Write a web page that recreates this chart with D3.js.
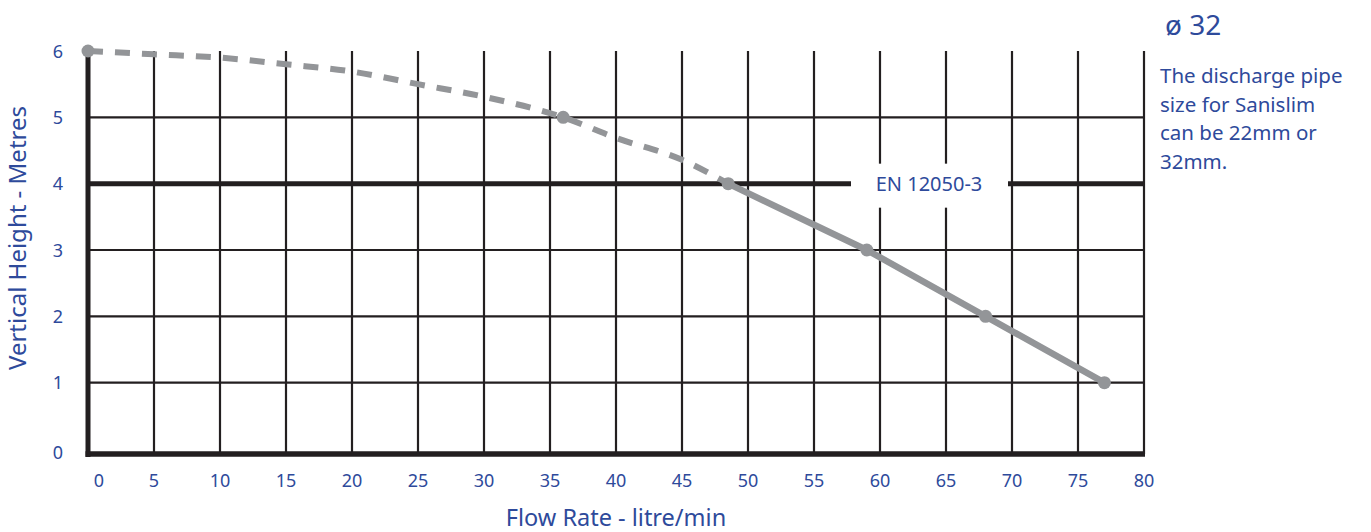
<!DOCTYPE html>
<html>
<head>
<meta charset="utf-8">
<script src="https://cdn.jsdelivr.net/npm/d3@7"></script>
<style>
  body { margin: 0; background: #fff; }
  svg { display: block; font-family: "Noto Sans", sans-serif; }
</style>
</head>
<body>
<svg width="1371" height="532"></svg>
<script>
// flow rate (litre/min) vs vertical height (m)
const dashedFlow = [0, 5, 10, 15, 20, 25, 30, 36, 40, 45, 48.5];
const dashedHeight = [6, 5.95, 5.9, 5.8, 5.69, 5.5, 5.31, 5, 4.69, 4.36, 4];
const solidFlow = [48.5, 59, 68, 77];
const solidHeight = [4, 3, 2, 1];
const markerFlow = [0, 36, 48.5, 59, 68, 77];
const markerHeight = [6, 5, 4, 3, 2, 1];
const xTicks = d3.range(0, 81, 5);
const yTicks = [0, 1, 2, 3, 4, 5, 6];
const standardHeight = 4;
const standardLabel = 'EN 12050-3';
const noteLines = ['The discharge pipe', 'size for Sanislim', 'can be 22mm or', '32mm.'];

const BLUE = '#2e4a9b', INK = '#231f20', GREY = '#939598';

const x = d3.scaleLinear().domain([0, 80]).range([88, 1144]);
const y = d3.scaleLinear().domain([0, 6]).range([449, 51]);

const svg = d3.select('svg');
const bottom = y(0) + 5;

// grid
svg.append('g')
  .selectAll('line')
  .data(xTicks.filter(d => d > 0))
  .join('line')
  .attr('x1', d => x(d)).attr('x2', d => x(d))
  .attr('y1', y(6)).attr('y2', bottom)
  .attr('stroke', INK).attr('stroke-width', 2.2);

svg.append('g')
  .selectAll('line')
  .data(yTicks.filter(d => d > 0 && d < 6 && d !== standardHeight))
  .join('line')
  .attr('x1', x(0)).attr('x2', x(80))
  .attr('y1', d => y(d)).attr('y2', d => y(d))
  .attr('stroke', INK).attr('stroke-width', 2.2);

// frame (left + bottom)
svg.append('line')
  .attr('x1', x(0)).attr('x2', x(0))
  .attr('y1', y(6)).attr('y2', bottom + 3)
  .attr('stroke', INK).attr('stroke-width', 5);
svg.append('line')
  .attr('x1', x(0) - 2.5).attr('x2', x(80) + 1)
  .attr('y1', bottom).attr('y2', bottom)
  .attr('stroke', INK).attr('stroke-width', 5.5);

// standard line with label
svg.append('line')
  .attr('x1', x(0)).attr('x2', x(80))
  .attr('y1', y(standardHeight)).attr('y2', y(standardHeight))
  .attr('stroke', INK).attr('stroke-width', 5);
svg.append('rect')
  .attr('x', 851).attr('y', y(standardHeight) - 20)
  .attr('width', 157).attr('height', 44)
  .attr('fill', '#fff');
svg.append('text')
  .attr('x', 929).attr('y', y(standardHeight) + 7)
  .attr('text-anchor', 'middle')
  .attr('fill', BLUE).attr('font-size', 20)
  .text(standardLabel);

// curve
const line = d3.line().x(d => x(d[0])).y(d => y(d[1])).curve(d3.curveMonotoneX);
svg.append('path')
  .datum(d3.zip(dashedFlow, dashedHeight))
  .attr('d', line)
  .attr('fill', 'none').attr('stroke', GREY)
  .attr('stroke-width', 6).attr('stroke-dasharray', '15,12');
svg.append('path')
  .datum(d3.zip(solidFlow, solidHeight))
  .attr('d', d3.line().x(d => x(d[0])).y(d => y(d[1])))
  .attr('fill', 'none').attr('stroke', GREY)
  .attr('stroke-width', 6.5);
svg.append('g')
  .selectAll('circle')
  .data(d3.zip(markerFlow, markerHeight))
  .join('circle')
  .attr('cx', d => x(d[0])).attr('cy', d => y(d[1]))
  .attr('r', 6.5).attr('fill', GREY);

// tick labels
svg.append('g')
  .selectAll('text')
  .data(xTicks)
  .join('text')
  .attr('x', d => x(d) + (d === 0 ? 11 : 0))
  .attr('y', 487)
  .attr('text-anchor', 'middle')
  .attr('fill', BLUE).attr('font-size', 18)
  .text(d => d);

svg.append('g')
  .selectAll('text')
  .data(yTicks)
  .join('text')
  .attr('x', 58)
  .attr('y', d => (d === 0 ? bottom - 2 : y(d)) + 6.5)
  .attr('text-anchor', 'middle')
  .attr('fill', BLUE).attr('font-size', 18)
  .text(d => d);

// axis titles
svg.append('text')
  .attr('x', 616).attr('y', 526)
  .attr('text-anchor', 'middle')
  .attr('fill', BLUE).attr('font-size', 23.5)
  .text('Flow Rate - litre/min');
svg.append('text')
  .attr('transform', 'translate(26,238) rotate(-90)')
  .attr('text-anchor', 'middle')
  .attr('fill', BLUE).attr('font-size', 24)
  .text('Vertical Height - Metres');

// pipe note
svg.append('text')
  .attr('x', 1165).attr('y', 35)
  .attr('fill', BLUE).attr('font-size', 28)
  .text('ø 32');
svg.append('g')
  .selectAll('text')
  .data(noteLines)
  .join('text')
  .attr('x', 1160)
  .attr('y', (d, i) => 83 + i * 28.5)
  .attr('fill', BLUE).attr('font-size', 20.5)
  .text(d => d);
</script>
</body>
</html>
